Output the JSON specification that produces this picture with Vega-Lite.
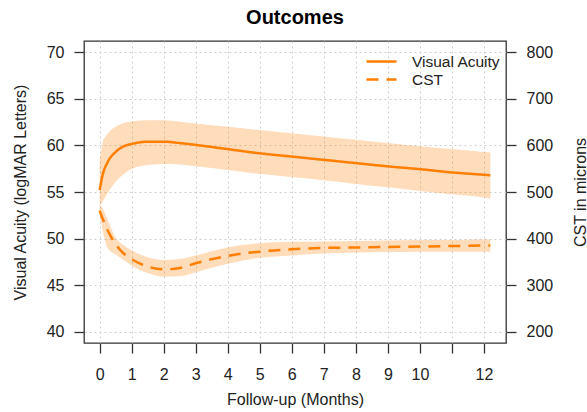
{
  "$schema": "https://vega.github.io/schema/vega-lite/v6.json",
  "description": "Visual acuity and CST over 12 months of follow-up, with confidence bands.",
  "autosize": {"type": "none"},
  "width": 422,
  "height": 302,
  "padding": {"left": 84, "top": 41, "right": 81, "bottom": 69},
  "background": "white",
  "title": {
    "text": "Outcomes",
    "anchor": "middle",
    "fontSize": 20,
    "fontWeight": "bold",
    "font": "Liberation Sans",
    "color": "black",
    "offset": 13
  },
  "data": {
    "values": [
      {"month": 0, "va": 55.2, "va_lo": 53.5, "va_hi": 58.4, "cst": 460, "cst_lo": 452, "cst_hi": 472},
      {"month": 0.1, "va": 56.9, "va_lo": 54.0, "va_hi": 60.35, "cst": 442, "cst_lo": 416, "cst_hi": 464},
      {"month": 0.25, "va": 58.2, "va_lo": 54.9, "va_hi": 61.25, "cst": 418, "cst_lo": 380, "cst_hi": 440},
      {"month": 0.5, "va": 59.3, "va_lo": 56.1, "va_hi": 62.0, "cst": 388, "cst_lo": 366, "cst_hi": 402},
      {"month": 0.75, "va": 59.9, "va_lo": 56.9, "va_hi": 62.4, "cst": 368, "cst_lo": 354, "cst_hi": 386},
      {"month": 1, "va": 60.15, "va_lo": 57.5, "va_hi": 62.57, "cst": 356, "cst_lo": 342, "cst_hi": 375},
      {"month": 1.5, "va": 60.4, "va_lo": 57.9, "va_hi": 62.7, "cst": 340, "cst_lo": 326, "cst_hi": 360},
      {"month": 2, "va": 60.4, "va_lo": 58.0, "va_hi": 62.7, "cst": 334, "cst_lo": 318, "cst_hi": 354},
      {"month": 2.5, "va": 60.25, "va_lo": 57.95, "va_hi": 62.55, "cst": 337, "cst_lo": 319, "cst_hi": 356},
      {"month": 3, "va": 60.05, "va_lo": 57.75, "va_hi": 62.35, "cst": 347, "cst_lo": 328, "cst_hi": 364},
      {"month": 4, "va": 59.6, "va_lo": 57.35, "va_hi": 62.0, "cst": 363, "cst_lo": 346, "cst_hi": 381},
      {"month": 5, "va": 59.15, "va_lo": 56.95, "va_hi": 61.65, "cst": 372, "cst_lo": 359, "cst_hi": 390},
      {"month": 6, "va": 58.8, "va_lo": 56.6, "va_hi": 61.3, "cst": 377, "cst_lo": 364, "cst_hi": 393},
      {"month": 7, "va": 58.45, "va_lo": 56.25, "va_hi": 60.95, "cst": 380, "cst_lo": 368, "cst_hi": 394},
      {"month": 8, "va": 58.1, "va_lo": 55.85, "va_hi": 60.6, "cst": 381, "cst_lo": 370, "cst_hi": 395},
      {"month": 9, "va": 57.75, "va_lo": 55.5, "va_hi": 60.25, "cst": 382, "cst_lo": 371, "cst_hi": 396},
      {"month": 10, "va": 57.45, "va_lo": 55.1, "va_hi": 59.9, "cst": 383, "cst_lo": 372, "cst_hi": 397},
      {"month": 11, "va": 57.1, "va_lo": 54.75, "va_hi": 59.6, "cst": 384, "cst_lo": 372, "cst_hi": 397},
      {"month": 12, "va": 56.85, "va_lo": 54.4, "va_hi": 59.3, "cst": 385, "cst_lo": 372, "cst_hi": 398},
      {"month": 12.2, "va": 56.8, "va_lo": 54.3, "va_hi": 59.25, "cst": 385, "cst_lo": 372, "cst_hi": 398}
    ]
  },
  "encoding": {
    "x": {
      "field": "month",
      "type": "quantitative",
      "scale": {"domain": [-0.488, 12.688], "nice": false, "zero": false},
      "axis": {
        "title": "Follow-up (Months)",
        "values": [0, 1, 2, 3, 4, 5, 6, 7, 8, 9, 10, 11, 12],
        "labelExpr": "datum.value == 11 ? '' : datum.label",
        "labelPadding": 13,
        "titlePadding": 9
      }
    }
  },
  "layer": [
    {
      "layer": [
        {
          "mark": {"type": "area", "color": "#FF7F00", "opacity": 0.27, "interpolate": "monotone"},
          "encoding": {
            "y": {
              "field": "va_lo",
              "type": "quantitative",
              "scale": {"domain": [38.8, 71.2], "nice": false, "zero": false},
              "axis": {
                "orient": "left",
                "title": "Visual Acuity (logMAR Letters)",
                "values": [40, 45, 50, 55, 60, 65, 70],
                "titleAngle": 270,
                "titleX": -64,
                "titleY": 151,
                "titleBaseline": "middle",
                "titleAlign": "center"
              }
            },
            "y2": {"field": "va_hi"}
          }
        },
        {
          "mark": {"type": "line", "color": "#FF7F00", "strokeWidth": 2.5, "interpolate": "monotone"},
          "encoding": {
            "y": {"field": "va", "type": "quantitative"},
            "strokeDash": {
              "datum": "Visual Acuity",
              "type": "nominal",
              "scale": {"domain": ["Visual Acuity"], "range": [[1, 0]]},
              "legend": {"title": null, "orient": "none", "legendX": 281, "legendY": 4}
            }
          }
        }
      ]
    },
    {
      "layer": [
        {
          "mark": {"type": "area", "color": "#FF7F00", "opacity": 0.27, "interpolate": "monotone"},
          "encoding": {
            "y": {
              "field": "cst_lo",
              "type": "quantitative",
              "scale": {"domain": [176, 824], "nice": false, "zero": false},
              "axis": {
                "orient": "right",
                "title": "CST in microns",
                "values": [200, 300, 400, 500, 600, 700, 800],
                "grid": false,
                "titleAngle": 270,
                "titleX": 74,
                "titleY": 151,
                "titleBaseline": "middle",
                "titleAlign": "center"
              }
            },
            "y2": {"field": "cst_hi"}
          }
        },
        {
          "mark": {"type": "line", "color": "#FF7F00", "strokeWidth": 2.5, "interpolate": "monotone"},
          "encoding": {
            "y": {"field": "cst", "type": "quantitative"},
            "strokeDash": {
              "datum": "CST",
              "type": "nominal",
              "scale": {"domain": ["CST"], "range": [[12, 8]]},
              "legend": {"title": null, "orient": "none", "legendX": 281, "legendY": 22}
            }
          }
        }
      ]
    }
  ],
  "resolve": {"scale": {"y": "independent", "strokeDash": "independent"}},
  "config": {
    "font": "Liberation Sans",
    "view": {"stroke": "#333333", "strokeWidth": 1.3},
    "axis": {
      "domain": false,
      "grid": true,
      "gridColor": "#cfcfcf",
      "gridDash": [2, 3],
      "gridWidth": 1,
      "tickSize": 10,
      "tickColor": "#333333",
      "tickWidth": 1.3,
      "labelFontSize": 16,
      "labelColor": "#222222",
      "labelPadding": 10,
      "titleFontSize": 16,
      "titleFontWeight": "normal",
      "titleColor": "#222222"
    },
    "legend": {
      "symbolType": "stroke",
      "symbolSize": 900,
      "symbolStrokeWidth": 2.5,
      "symbolStrokeColor": "#FF7F00",
      "labelFontSize": 15.5,
      "labelColor": "#222222",
      "labelOffset": 14,
      "padding": 0
    }
  }
}
